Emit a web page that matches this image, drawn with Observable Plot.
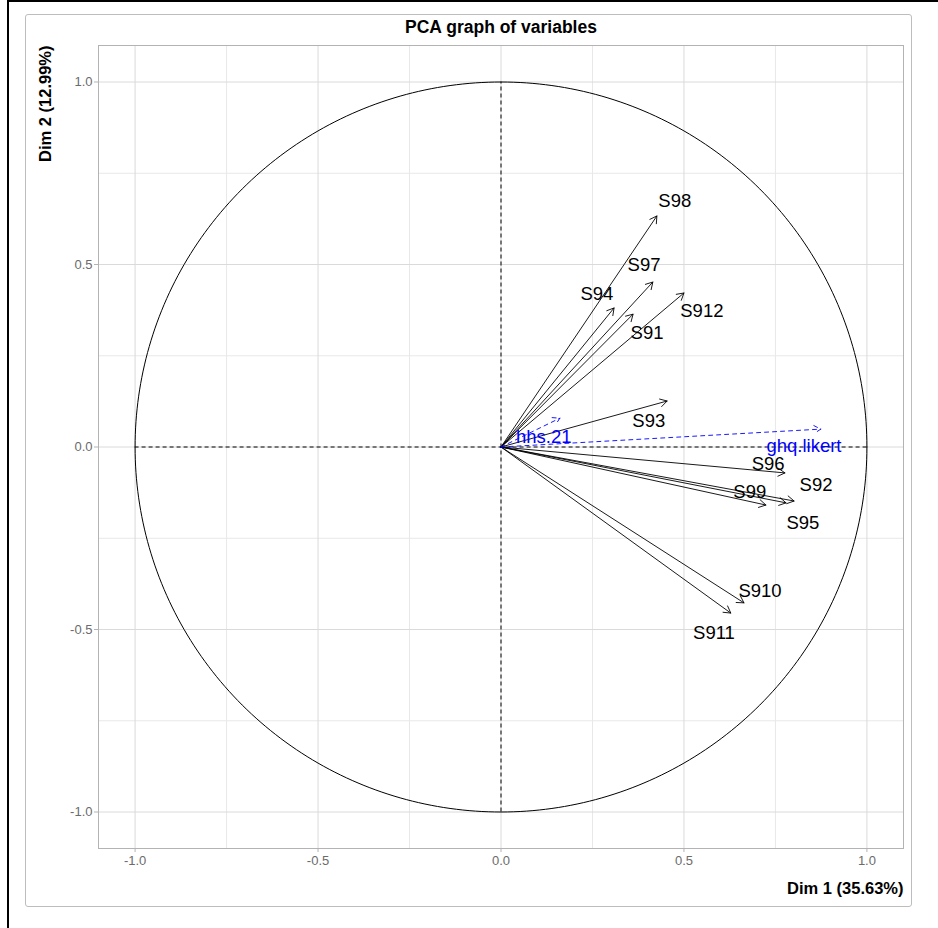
<!DOCTYPE html>
<html>
<head>
<meta charset="utf-8">
<script src="https://cdn.jsdelivr.net/npm/d3@7"></script>
<script src="https://cdn.jsdelivr.net/npm/@observablehq/plot@0.6"></script>
<style>
  html, body { margin: 0; padding: 0; background: #fff; }
  #wrap { position: relative; width: 938px; height: 928px; overflow: hidden; font-family: "Liberation Sans", Arial, sans-serif; }
  #wrap svg { position: absolute; left: 0; top: 0; }
  .bl { position: absolute; background: #000; }
  #gbox { position: absolute; left: 25px; top: 14px; width: 887px; height: 893px; border: 1px solid #bdbdbd; border-radius: 3px; box-sizing: border-box; }
</style>
</head>
<body>
<div id="wrap">
  <div id="gbox"></div>
  <div class="bl" style="left:7px;top:0;width:2px;height:928px"></div>
  <div class="bl" style="left:7px;top:0;width:931px;height:2px"></div>
</div>
<script>
// Active variables
const names  = ["S98","S97","S94","S91","S912","S93","S96","S92","S95","S99","S910","S911"];
const dim1   = [0.426,0.415,0.309,0.361,0.500,0.454,0.776,0.801,0.779,0.724,0.664,0.628];
const dim2   = [0.633,0.452,0.381,0.364,0.422,0.126,-0.071,-0.148,-0.153,-0.159,-0.427,-0.455];
const labelX = [0.475,0.391,0.262,0.399,0.549,0.404,0.730,0.861,0.825,0.680,0.708,0.582];
const labelY = [0.674,0.499,0.419,0.312,0.373,0.071,-0.046,-0.104,-0.208,-0.123,-0.395,-0.510];

// Supplementary variables
const supNames  = ["hhs.21","ghq.likert"];
const supDim1   = [0.161,0.874];
const supDim2   = [0.079,0.049];
const supLabelX = [0.117,0.828];
const supLabelY = [0.027,0.002];

// Axis ticks
const majorTicks = [-1,-0.5,0,0.5,1];
const minorTicks = [-0.75,-0.25,0.25,0.75];

const titleText = "PCA graph of variables";
const xTitle = "Dim 1 (35.63%)";
const yTitle = "Dim 2 (12.99%)";

const active = names.map((n,i) => ({name:n, x:dim1[i], y:dim2[i], lx:labelX[i], ly:labelY[i]}));
const supp = supNames.map((n,i) => ({name:n, x:supDim1[i], y:supDim2[i], lx:supLabelX[i], ly:supLabelY[i]}));
// unit correlation circle
const circle = d3.range(0, 361).map(a => ({x: Math.cos(a*Math.PI/180), y: Math.sin(a*Math.PI/180)}));

const font = '"Liberation Sans", Arial, sans-serif';
const fmt = d => d.toFixed(1);

const chart = Plot.plot({
  width: 938,
  height: 928,
  marginTop: 45,
  marginBottom: 80,
  marginLeft: 98,
  marginRight: 35,
  style: {fontFamily: font, background: "transparent", overflow: "visible"},
  x: {domain: [-1.1, 1.1]},
  y: {domain: [-1.1, 1.1]},
  marks: [
    Plot.ruleX(minorTicks, {stroke: "#e8e8e8", strokeWidth: 1}),
    Plot.ruleY(minorTicks, {stroke: "#e8e8e8", strokeWidth: 1}),
    Plot.ruleX(majorTicks, {stroke: "#dadada", strokeWidth: 1}),
    Plot.ruleY(majorTicks, {stroke: "#dadada", strokeWidth: 1}),
    Plot.frame({stroke: "#b3b3b3"}),
    Plot.axisX({ticks: majorTicks, tickFormat: fmt, tickSize: 4, tickPadding: 3, stroke: "#b3b3b3", fill: "#6b6b6b", fontSize: 13, label: null}),
    Plot.axisY({ticks: majorTicks, tickFormat: fmt, tickSize: 4, tickPadding: 2, stroke: "#b3b3b3", fill: "#6b6b6b", fontSize: 13, label: null}),
    Plot.ruleX([0], {y1: -1, y2: 1, stroke: "#000", strokeDasharray: "4,3", strokeWidth: 1}),
    Plot.ruleY([0], {x1: -1, x2: 1, stroke: "#000", strokeDasharray: "4,3", strokeWidth: 1}),
    Plot.line(circle, {x: "x", y: "y", stroke: "#000", strokeWidth: 1}),
    Plot.arrow(active, {x1: 0, y1: 0, x2: "x", y2: "y", stroke: "#000", strokeWidth: 0.9, headLength: 13, headAngle: 60}),
    Plot.arrow(supp, {x1: 0, y1: 0, x2: "x", y2: "y", stroke: "#0000ff", strokeWidth: 0.9, headLength: 13, headAngle: 60, strokeDasharray: "4,4"}),
    Plot.text(active, {x: "lx", y: "ly", text: "name", fill: "#000", fontSize: 18.5}),
    Plot.text(supp, {x: "lx", y: "ly", text: "name", fill: "#0000ff", fontSize: 18.5}),
    Plot.text([titleText], {frameAnchor: "top", lineAnchor: "middle", dy: -18, fontSize: 17.5, fontWeight: "bold", fill: "#000"}),
    Plot.text([xTitle], {frameAnchor: "bottom-right", lineAnchor: "middle", dy: 40, textAnchor: "end", fontSize: 16.5, fontWeight: "bold", fill: "#000"}),
    Plot.text([yTitle], {frameAnchor: "top-left", lineAnchor: "middle", dx: -53, rotate: -90, textAnchor: "end", fontSize: 16.5, fontWeight: "bold", fill: "#000"})
  ]
});
document.getElementById("wrap").appendChild(chart);
</script>
</body>
</html>
